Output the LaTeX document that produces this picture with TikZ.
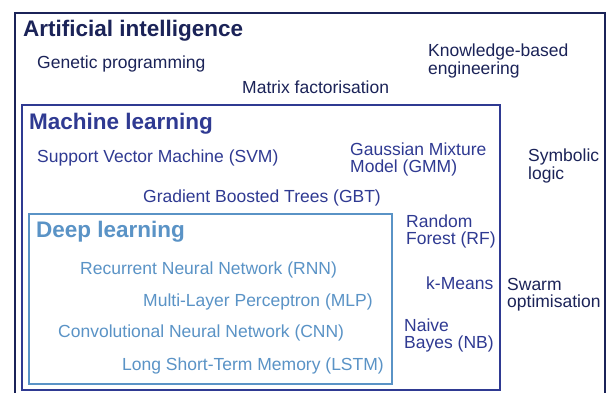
\documentclass[tikz,border=0pt]{standalone}
\usepackage{fontspec}
\setmainfont{Liberation Sans}
\definecolor{aicol}{HTML}{1B2358}
\definecolor{mlcol}{HTML}{2F3A92}
\definecolor{dlcol}{HTML}{5A93C6}
\tikzset{
  lbl/.style={anchor=base west, inner sep=0pt, align=left, font=\fontsize{17.5}{17.5}\selectfont},
  head/.style={anchor=base west, inner sep=0pt, font=\fontsize{22.5}{24}\selectfont\bfseries},
  frame/.style={line width=2pt}
}
\begin{document}
\begin{tikzpicture}[x=1pt,y=-1pt]
\useasboundingbox (0,0) rectangle (608,392);
\clip (0,0) rectangle (608,392);
\fill[white] (0,0) rectangle (608,392);
% frames
\draw[frame, aicol] (15,13) rectangle (605,400);
\draw[frame, mlcol] (22,105) rectangle (500,390);
\draw[frame, dlcol] (29,214) rectangle (392,384);
% AI
\node[head, text=aicol] (ai) at (23,36) {Artificial intelligence};
\node[lbl, text=aicol] (gp) at (37,68) {Genetic programming};
\node[lbl, text=aicol] (mf) at (242,93) {Matrix factorisation};
\node[lbl, text=aicol] (kbe) at (428,74) {Knowledge-based\\engineering};
\node[lbl, text=aicol] (sl) at (528,179) {Symbolic\\logic};
\node[lbl, text=aicol] (so) at (507,307.5) {Swarm\\optimisation};
% ML
\node[head, text=mlcol] (ml) at (29,129) {Machine learning};
\node[lbl, text=mlcol] (svm) at (37,162) {Support Vector Machine (SVM)};
\node[lbl, text=mlcol] (gbt) at (143,202) {Gradient Boosted Trees (GBT)};
\node[lbl, text=mlcol] (gmm) at (350,172.5) {Gaussian Mixture\\Model (GMM)};
\node[lbl, text=mlcol] (rf) at (406,244.5) {Random\\Forest (RF)};
\node[lbl, text=mlcol] (km) at (426,289) {k-Means};
\node[lbl, text=mlcol] (nb) at (404,348.5) {Naive\\Bayes (NB)};
% DL
\node[head, text=dlcol] (dl) at (36,237) {Deep learning};
\node[lbl, text=dlcol] (rnn) at (80,274) {Recurrent Neural Network (RNN)};
\node[lbl, text=dlcol] (mlp) at (143,306) {Multi-Layer Perceptron (MLP)};
\node[lbl, text=dlcol] (cnn) at (58,337) {Convolutional Neural Network (CNN)};
\node[lbl, text=dlcol] (lstm) at (122,370) {Long Short-Term Memory (LSTM)};
\end{tikzpicture}
\end{document}
